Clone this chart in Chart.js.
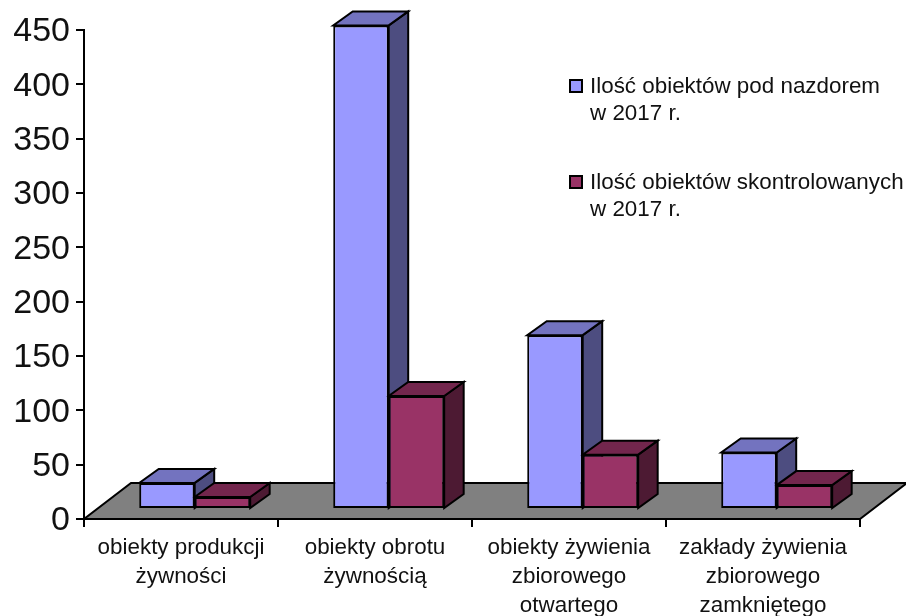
<!DOCTYPE html>
<html lang="pl">
<head>
<meta charset="utf-8">
<title>Obiekty</title>
<script src="https://cdn.jsdelivr.net/npm/chart.js@4"></script>
<style>
  html, body { margin: 0; padding: 0; background: #fff; }
  canvas { display: block; }
</style>
</head>
<body>
<canvas id="chart" width="906" height="616"></canvas>
<script>
const categories = [
  ['obiekty produkcji', 'żywności'],
  ['obiekty obrotu', 'żywnością'],
  ['obiekty żywienia', 'zbiorowego', 'otwartego'],
  ['zakłady żywienia', 'zbiorowego', 'zamkniętego']
];
const underSupervision = [24, 445, 160, 52];
const inspected = [11, 104, 50, 22];
const seriesNames = [
  ['Ilość obiektów pod nazdorem', 'w 2017 r.'],
  ['Ilość obiektów skontrolowanych', 'w 2017 r.']
];

const FONT = '"Liberation Sans", Arial, sans-serif';
const colors = [
  { front: '#9999ff', top: '#7373bf', side: '#4d4d80' },
  { front: '#993366', top: '#73264d', side: '#4d1a33' }
];

// przesuniecia 3D
const floorDepth = { x: 47, y: -36 };
const barShift = { x: 13.7, y: -10 };
const barDepth = { x: 19.5, y: -14 };

function poly(ctx, pts, fill) {
  ctx.beginPath();
  pts.forEach((p, i) => i ? ctx.lineTo(p[0], p[1]) : ctx.moveTo(p[0], p[1]));
  ctx.closePath();
  ctx.fillStyle = fill;
  ctx.fill();
  ctx.stroke();
}

const fake3d = {
  id: 'fake3d',
  beforeDraw(chart) {
    // etykiety osi y siedza troche nizej niz srodek kreski
    chart.scales.y.getLabelItems(chart.chartArea).forEach(item => { item.textOffset = 2; });
  },
  beforeDatasetsDraw(chart) {
    const ctx = chart.ctx;
    const xs = chart.scales.x;
    const y0 = chart.scales.y.getPixelForValue(0);

    ctx.save();
    ctx.strokeStyle = '#000';
    ctx.lineWidth = 2;
    ctx.lineJoin = 'miter';
    poly(ctx, [
      [xs.left, y0],
      [xs.right, y0],
      [xs.right + floorDepth.x, y0 + floorDepth.y],
      [xs.left + floorDepth.x, y0 + floorDepth.y]
    ], '#808080');

    // boki i gora slupkow, przod rysuje Chart.js
    categories.forEach((c, i) => {
      chart.data.datasets.forEach((ds, d) => {
        const el = chart.getDatasetMeta(d).data[i];
        const l = el.x - el.width / 2 + barShift.x;
        const r = el.x + el.width / 2 + barShift.x;
        const t = el.y + barShift.y;
        const b = el.base + barShift.y;
        poly(ctx, [[r, t], [r, b], [r + barDepth.x, b + barDepth.y], [r + barDepth.x, t + barDepth.y]], colors[d].side);
        poly(ctx, [[l, t], [r, t], [r + barDepth.x, t + barDepth.y], [l + barDepth.x, t + barDepth.y]], colors[d].top);
      });
    });
    ctx.restore();

    ctx.save();
    ctx.translate(barShift.x, barShift.y);
  },
  afterDatasetsDraw(chart) {
    chart.ctx.restore();
  },
  afterDraw(chart) {
    const ctx = chart.ctx;
    const rows = [[570, 80, 87, 114], [570, 176, 183, 210]];
    ctx.save();
    ctx.font = '22.4px ' + FONT;
    ctx.textBaseline = 'middle';
    ctx.textAlign = 'left';
    seriesNames.forEach((lines, d) => {
      const [sx, sy, l1, l2] = rows[d];
      ctx.fillStyle = colors[d].front;
      ctx.strokeStyle = '#000';
      ctx.lineWidth = 2;
      ctx.fillRect(sx, sy, 12, 12);
      ctx.strokeRect(sx, sy, 12, 12);
      ctx.fillStyle = '#111';
      ctx.fillText(lines[0], 590, l1);
      ctx.fillText(lines[1], 590, l2);
    });
    ctx.restore();
  }
};

new Chart(document.getElementById('chart'), {
  type: 'bar',
  data: {
    labels: categories,
    datasets: [
      { label: seriesNames[0].join(' '), data: underSupervision, backgroundColor: colors[0].front },
      { label: seriesNames[1].join(' '), data: inspected, backgroundColor: colors[1].front }
    ]
  },
  options: {
    responsive: false,
    animation: false,
    layout: { padding: { top: 30, right: 46, left: 0, bottom: 0 } },
    datasets: {
      bar: {
        categoryPercentage: 0.572,
        barPercentage: 1,
        borderColor: '#000',
        borderWidth: 2,
        borderSkipped: false,
        clip: false
      }
    },
    plugins: { legend: { display: false }, tooltip: { enabled: false } },
    scales: {
      x: {
        afterFit(scale) { scale.height = 97; },
        border: { color: '#000', width: 2 },
        grid: { offset: true, drawOnChartArea: false, color: '#000', lineWidth: 2, tickLength: 8 },
        ticks: {
          color: '#111',
          maxRotation: 0,
          autoSkip: false,
          padding: 6,
          font: { family: FONT, size: 22.4, lineHeight: 1.3 }
        }
      },
      y: {
        min: 0,
        max: 450,
        afterFit(scale) { scale.width = 84; },
        border: { color: '#000', width: 2 },
        grid: { drawOnChartArea: false, color: '#000', lineWidth: 2, tickLength: 8 },
        ticks: {
          stepSize: 50,
          color: '#111',
          padding: 6,
          font: { family: FONT, size: 34 }
        }
      }
    }
  },
  plugins: [fake3d]
});
</script>
</body>
</html>
